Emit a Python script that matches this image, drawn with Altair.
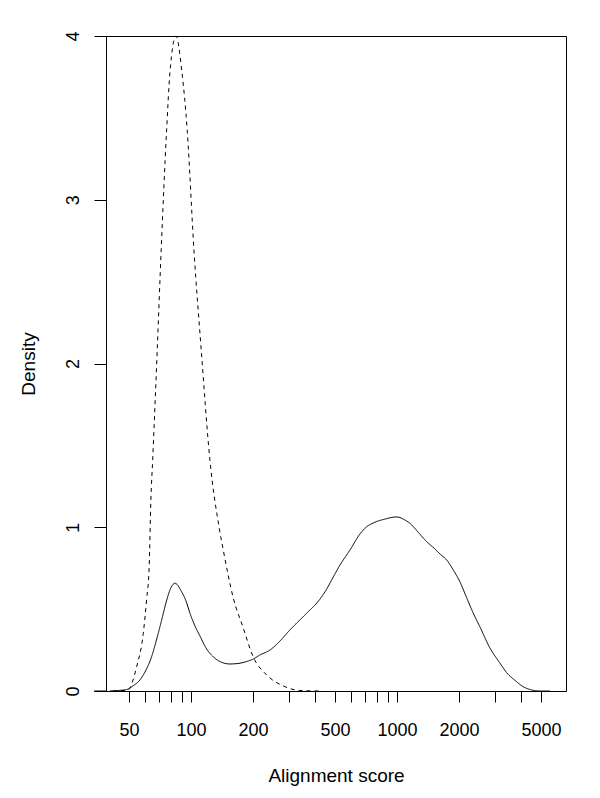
import altair as alt
import pandas as pd

# Solid curve (alignment score, density)
solid_x = [40.4, 44.2, 48.7, 52.3, 56.5, 60.5, 64.4, 67.6, 72.1, 75.6, 79.1, 83.6,
           90.1, 94.6, 98.9, 104.6, 110.6, 118.3, 128.3, 139.8, 154.6, 169.1, 186.4,
           200.6, 216.2, 241.8, 270.4, 302.4, 338.1, 378.2, 407.5, 447.2, 490.7,
           528.9, 591.4, 661.3, 712.6, 767.2, 874.4, 996.6, 1093.5, 1156.4, 1264.6,
           1393.5, 1512.0, 1617.1, 1743.0, 1876.5, 2022.1, 2161.5, 2346.0, 2528.7,
           2828.3, 3162.3, 3407.9, 3739.3, 4103.0, 4522.0, 4944.0, 5529.0]
solid_y = [0.0, 0.003, 0.009, 0.031, 0.067, 0.128, 0.209, 0.299, 0.434, 0.537, 0.617, 0.658,
           0.606, 0.550, 0.475, 0.397, 0.336, 0.263, 0.209, 0.177, 0.165, 0.168, 0.180,
           0.195, 0.220, 0.250, 0.305, 0.373, 0.434, 0.495, 0.536, 0.605, 0.696,
           0.769, 0.861, 0.959, 1.003, 1.026, 1.050, 1.063, 1.044, 1.024, 0.971,
           0.912, 0.873, 0.837, 0.800, 0.739, 0.666, 0.580, 0.475, 0.391,
           0.262, 0.170, 0.112, 0.065, 0.026, 0.006, 0.0, 0.0]

# Dashed curve
dashed_x = [41.8, 45.2, 49.4, 54.5, 58.7, 60.9, 62.7, 63.9, 65.2, 68.6, 71.7, 76.2,
            79.1, 84.6, 90.4, 95.9, 103.4, 112.2, 123.6, 137.2, 143.5, 160.5, 179.4,
            200.6, 233.1, 280.5, 338.1, 422.9]
dashed_y = [0.0, 0.002, 0.006, 0.148, 0.352, 0.556, 0.759, 1.166, 1.411, 2.082, 2.693, 3.426,
            3.78, 4.0, 3.78, 3.426, 2.693, 2.082, 1.411, 0.995, 0.861, 0.568, 0.385,
            0.208, 0.098, 0.031, 0.003, 0.0]

x_ticks = [50, 60, 70, 80, 90, 100, 200, 300, 400, 500, 600, 700, 800, 900,
           1000, 2000, 3000, 4000, 5000]
x_labels = [50, 100, 200, 500, 1000, 2000, 5000]
y_ticks = [0, 1, 2, 3, 4]

df = pd.concat([
    pd.DataFrame({"score": solid_x, "density": solid_y, "series": "solid",
                  "i": range(len(solid_x))}),
    pd.DataFrame({"score": dashed_x, "density": dashed_y, "series": "dashed",
                  "i": range(len(dashed_x))}),
])

FONT = "Liberation Sans"
W, H = 460, 655

label_expr = "indexof(" + str(x_labels) + ", datum.value) >= 0 ? datum.label : ''"

x_enc = alt.X("score:Q",
              scale=alt.Scale(type="log", domain=[38.7, 6613], nice=False, zero=False),
              axis=alt.Axis(values=x_ticks, labelExpr=label_expr, format="d",
                            title="Alignment score", domain=False,
                            tickColor="black", tickSize=11, tickWidth=1,
                            labelFont=FONT, labelFontSize=18, labelColor="black",
                            labelPadding=19, labelOverlap=False, labelFlush=False,
                            grid=False, titleFont=FONT, titleFontSize=19,
                            titleFontWeight="normal", titleColor="black",
                            titleX=W / 2, titleY=84, titleBaseline="middle",
                            titleAlign="center"))
y_enc = alt.Y("density:Q",
              scale=alt.Scale(domain=[0, 4], nice=False, zero=True),
              axis=alt.Axis(values=y_ticks, format="d", title="Density", domain=False,
                            tickColor="black", tickSize=12, tickWidth=1,
                            labelFont=FONT, labelFontSize=18, labelColor="black",
                            labelAngle=270, labelAlign="center", labelBaseline="bottom",
                            labelPadding=12, labelOverlap=False, labelFlush=False,
                            grid=False, titleFont=FONT, titleFontSize=19,
                            titleFontWeight="normal", titleColor="black",
                            titleAngle=270, titleX=-78, titleY=H / 2,
                            titleBaseline="middle", titleAlign="center"))

lines = alt.Chart(df).mark_line(color="black", strokeWidth=1, interpolate="monotone").encode(
    x=x_enc,
    y=y_enc,
    detail="series:N",
    order="i:Q",
    strokeDash=alt.StrokeDash("series:N",
                              scale=alt.Scale(domain=["solid", "dashed"],
                                              range=[[1, 0], [4, 4]]),
                              legend=None),
)

axis_ext = alt.Chart(pd.DataFrame({"a": [0]})).mark_rule(color="black", strokeWidth=1).encode(
    x=alt.value(-12), x2=alt.value(0), y=alt.value(H)
)

chart = alt.layer(lines, axis_ext).properties(
    width=W, height=H,
    autosize=alt.AutoSizeParams(type="none"),
    padding={"left": 98, "top": 28, "right": 26, "bottom": 99},
    background="white",
).configure_view(stroke="black", strokeWidth=1)

chart.save("out.html", embed_options={"renderer": "svg", "actions": False})
